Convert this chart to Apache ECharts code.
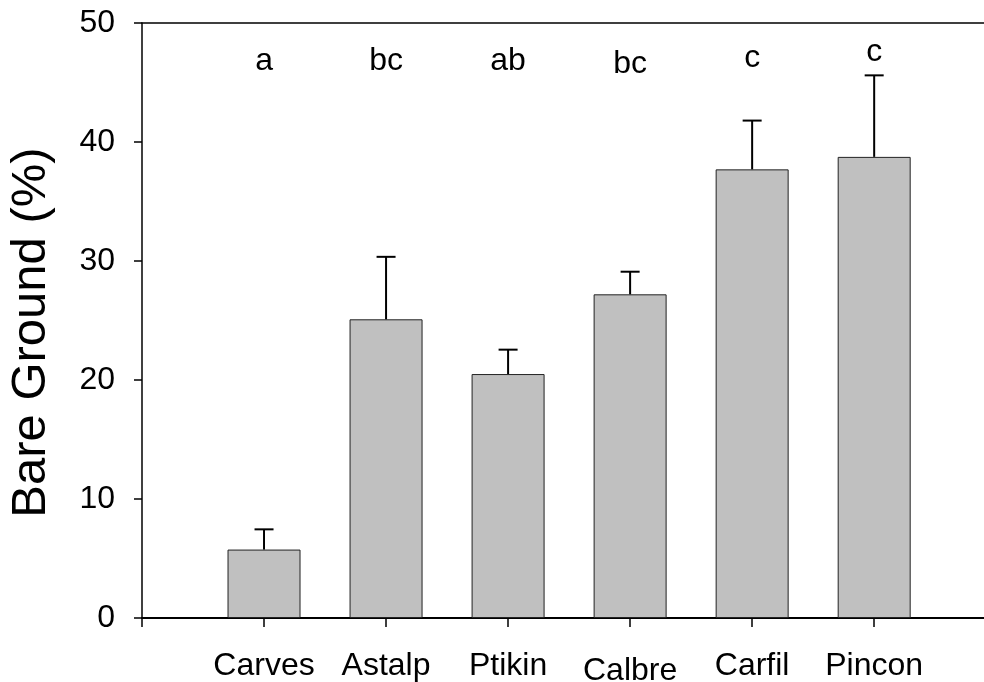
<!DOCTYPE html>
<html>
<head>
<meta charset="utf-8">
<script src="https://cdn.jsdelivr.net/npm/echarts@6/dist/echarts.min.js"></script>
<style>
  html, body { margin: 0; padding: 0; background: #fff; }
  #chart { width: 984px; height: 682px; }
</style>
</head>
<body>
<div id="chart"></div>
<script>
// species along the x axis
var species = ['Carves', 'Astalp', 'Ptikin', 'Calbre', 'Carfil', 'Pincon'];
// mean bare ground (%)
var bareGround = [5.75, 25.1, 20.5, 27.2, 37.7, 38.75];
// standard error (upper whisker only)
var stdErr = [1.7, 5.25, 2.05, 1.9, 4.1, 6.85];
// significance letters and the height they sit at
var letters = ['a', 'bc', 'ab', 'bc', 'c', 'c'];
var letterY = [46.8, 46.8, 46.8, 46.5, 47.05, 47.55];

var fontFam = 'Liberation Sans, Arial, Helvetica, sans-serif';

var myChart = echarts.init(document.getElementById('chart'));

var barData = bareGround.map(function (v, i) { return [i + 1, v]; });
var errData = bareGround.map(function (v, i) { return [i + 1, v, v + stdErr[i]]; });
var letterData = letters.map(function (t, i) { return [i + 1, letterY[i], t]; });

var options = {
    animation: false,
    backgroundColor: '#fff',
    grid: { left: 142, right: 0, top: 23, bottom: 64, outerBoundsMode: 'none', containLabel: false },
    xAxis: [{
        type: 'value',
        min: 0,
        max: 6.9,
        interval: 1,
        splitLine: { show: false },
        axisLine: { show: true, lineStyle: { color: '#000', width: 2 } },
        axisTick: { show: true, length: 9, lineStyle: { color: '#000', width: 1.5 } },
        axisLabel: {
            margin: 32,
            fontSize: 32,
            color: '#000',
            fontFamily: fontFam,
            showMaxLabel: false,
            formatter: function (v) {
                var name = species[Math.round(v) - 1];
                if (!name) return '';
                return name === 'Calbre' ? '{low|' + name + '}' : name;
            },
            rich: { low: { fontSize: 32, color: '#000', fontFamily: fontFam, padding: [5, 0, 0, 0] } }
        }
    }, {
        type: 'value',
        position: 'top',
        min: 0,
        max: 6.9,
        splitLine: { show: false },
        axisLine: { show: true, lineStyle: { color: '#000', width: 1.5 } },
        axisTick: { show: false },
        axisLabel: { show: false }
    }],
    yAxis: {
        type: 'value',
        min: 0,
        max: 50,
        interval: 10,
        splitLine: { show: false },
        axisLine: { show: true, lineStyle: { color: '#000', width: 1.5 } },
        axisTick: { show: true, length: 8, lineStyle: { color: '#000', width: 1.5 } },
        axisLabel: { margin: 27, fontSize: 32, color: '#000', fontFamily: fontFam },
        name: 'Bare Ground (%)',
        nameLocation: 'middle',
        nameGap: 86,
        nameTextStyle: { fontSize: 49, color: '#000', fontFamily: fontFam, padding: [0, 24, 0, 0] }
    },
    series: [{
        type: 'bar',
        data: barData,
        barWidth: 73,
        itemStyle: { color: '#c0c0c0', borderColor: '#222', borderWidth: 1 },
        z: 2
    }, {
        type: 'custom',
        data: errData,
        z: 3,
        renderItem: function (params, api) {
            var x = api.value(0);
            var p0 = api.coord([x, api.value(1)]);
            var p1 = api.coord([x, api.value(2)]);
            var half = 9.5;
            return {
                type: 'group',
                children: [{
                    type: 'line',
                    shape: { x1: p0[0], y1: p0[1], x2: p1[0], y2: p1[1] },
                    style: { stroke: '#000', lineWidth: 2 }
                }, {
                    type: 'line',
                    shape: { x1: p1[0] - half, y1: p1[1], x2: p1[0] + half, y2: p1[1] },
                    style: { stroke: '#000', lineWidth: 2 }
                }]
            };
        }
    }, {
        type: 'scatter',
        data: letterData,
        symbolSize: 0,
        itemStyle: { opacity: 1 },
        label: {
            show: true,
            position: 'inside',
            fontSize: 32,
            color: '#000',
            opacity: 1,
            fontFamily: fontFam,
            formatter: function (p) { return p.value[2]; }
        }
    }]
};

myChart.setOption(options);
</script>
</body>
</html>
